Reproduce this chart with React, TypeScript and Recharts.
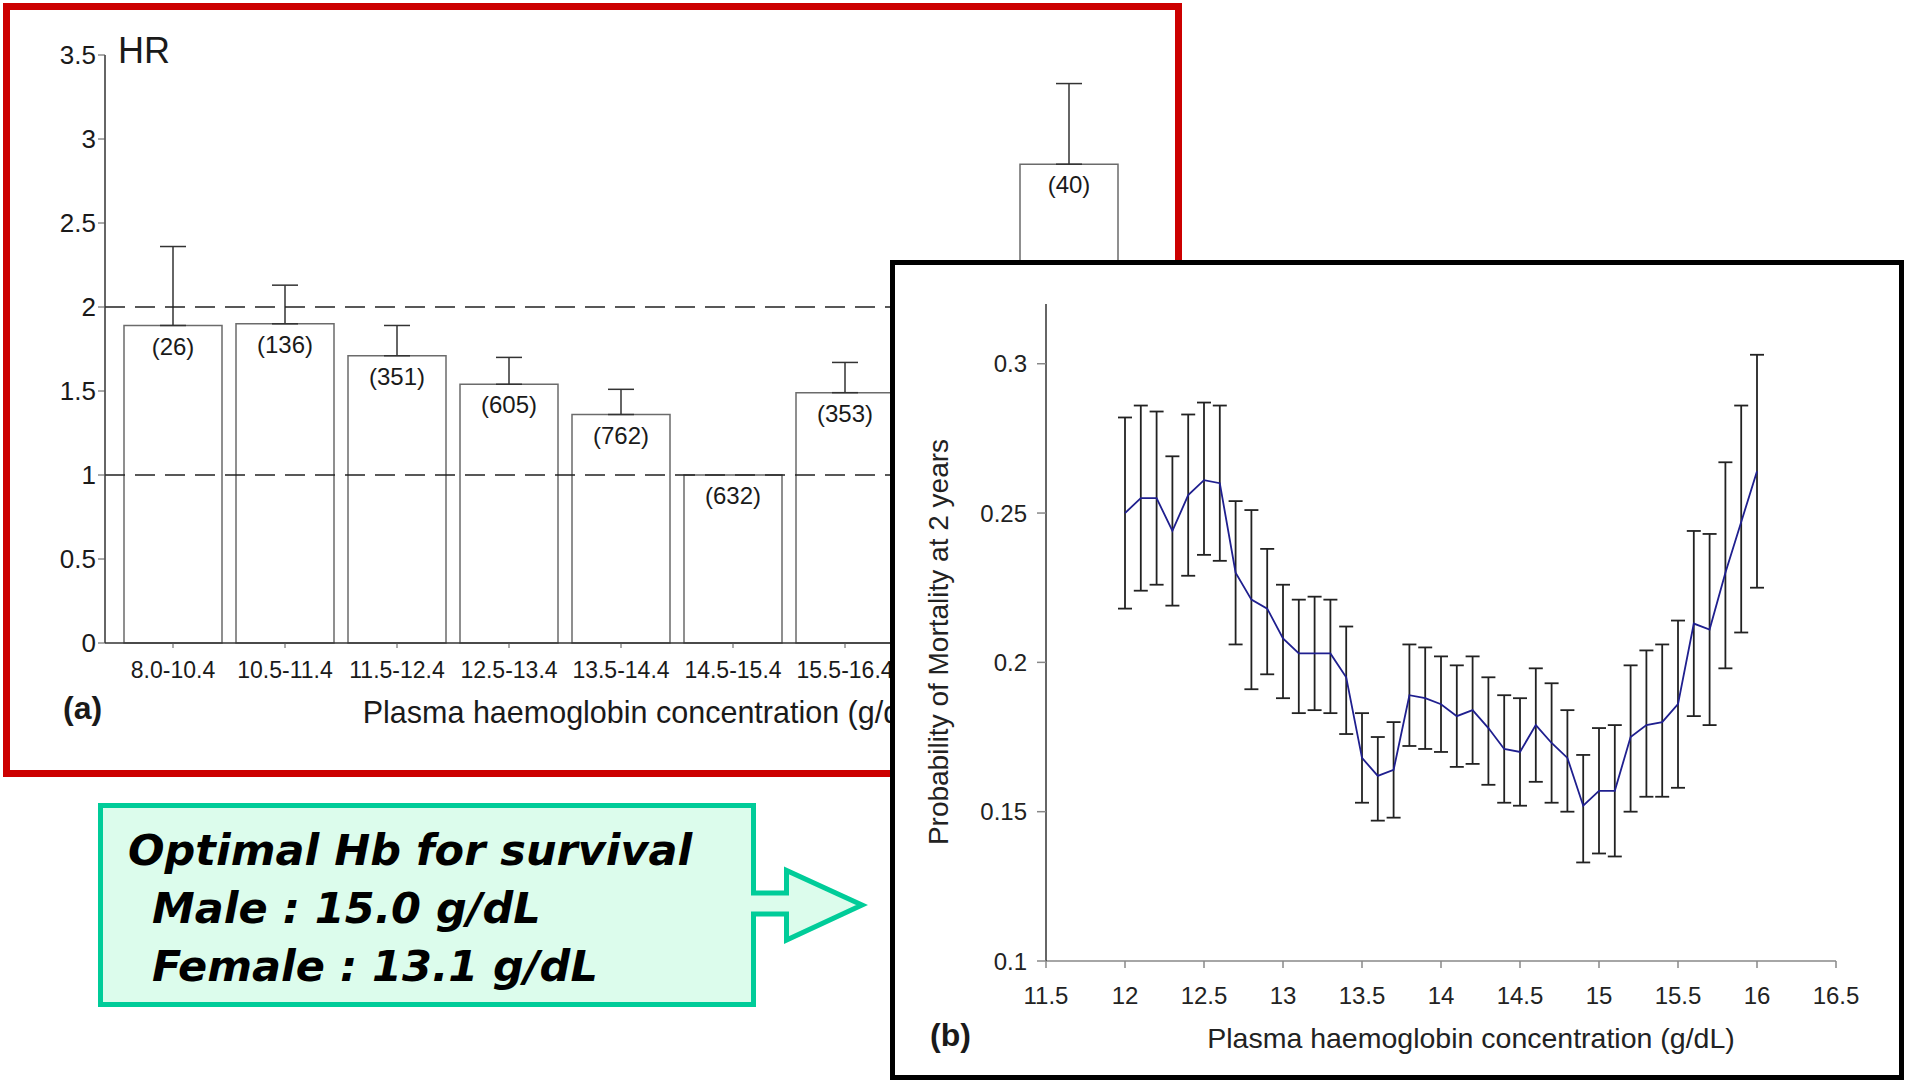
import {
  Bar,
  BarChart,
  ErrorBar,
  LabelList,
  Line,
  LineChart,
  ReferenceLine,
  XAxis,
  YAxis,
} from "recharts";

// panel (a): hazard ratio by haemoglobin band
const hbBands = [
  "8.0-10.4",
  "10.5-11.4",
  "11.5-12.4",
  "12.5-13.4",
  "13.5-14.4",
  "14.5-15.4",
  "15.5-16.4",
  "16.5-17.4",
  "≥17.5",
];
// 16.5-17.4 sits under panel (b) in the picture, so its value is unknown
const hazardRatio = [1.89, 1.9, 1.71, 1.54, 1.36, 1.0, 1.49, null, 2.85];
const hazardUpper = [2.36, 2.13, 1.89, 1.7, 1.51, null, 1.67, null, 3.33];
const bandCounts = [26, 136, 351, 605, 762, 632, 353, null, 40];
const hrTicks = [0, 0.5, 1, 1.5, 2, 2.5, 3, 3.5];

// panel (b): probability of mortality at 2 years
const hbLevels = [
  12.0, 12.1, 12.2, 12.3, 12.4, 12.5, 12.6, 12.7, 12.8, 12.9, 13.0, 13.1, 13.2,
  13.3, 13.4, 13.5, 13.6, 13.7, 13.8, 13.9, 14.0, 14.1, 14.2, 14.3, 14.4, 14.5,
  14.6, 14.7, 14.8, 14.9, 15.0, 15.1, 15.2, 15.3, 15.4, 15.5, 15.6, 15.7, 15.8,
  15.9, 16.0,
];
const mortality = [
  0.25, 0.255, 0.255, 0.244, 0.256, 0.261, 0.26, 0.23, 0.221, 0.218, 0.208,
  0.203, 0.203, 0.203, 0.195, 0.168, 0.162, 0.164, 0.189, 0.188, 0.186, 0.182,
  0.184, 0.178, 0.171, 0.17, 0.179, 0.173, 0.168, 0.152, 0.157, 0.157, 0.175,
  0.179, 0.18, 0.186, 0.213, 0.211, 0.23, 0.247, 0.264,
];
const mortalityLow = [
  0.218, 0.224, 0.226, 0.219, 0.229, 0.236, 0.234, 0.206, 0.191, 0.196, 0.188,
  0.183, 0.184, 0.183, 0.176, 0.153, 0.147, 0.148, 0.172, 0.171, 0.17, 0.165,
  0.166, 0.159, 0.153, 0.152, 0.16, 0.153, 0.15, 0.133, 0.136, 0.135, 0.15,
  0.155, 0.155, 0.158, 0.182, 0.179, 0.198, 0.21, 0.225,
];
const mortalityHigh = [
  0.282, 0.286, 0.284, 0.269, 0.283, 0.287, 0.286, 0.254, 0.251, 0.238, 0.226,
  0.221, 0.222, 0.221, 0.212, 0.183, 0.175, 0.18, 0.206, 0.205, 0.202, 0.199,
  0.202, 0.195, 0.189, 0.188, 0.198, 0.193, 0.184, 0.169, 0.178, 0.179, 0.199,
  0.204, 0.206, 0.214, 0.244, 0.243, 0.267, 0.286, 0.303,
];
const hbTicks = [11.5, 12, 12.5, 13, 13.5, 14, 14.5, 15, 15.5, 16, 16.5];
const probTicks = [0.1, 0.15, 0.2, 0.25, 0.3];

const TEXT = "#1a1a1a";

const barData = hbBands.map((band, i) => {
  const hr = hazardRatio[i];
  const up = hazardUpper[i];
  return {
    band,
    hr,
    err: hr != null && up != null ? [0, up - hr] : null,
    n: bandCounts[i] != null ? `(${bandCounts[i]})` : "",
  };
});

const lineData = hbLevels.map((hb, i) => ({
  hb,
  p: mortality[i],
  err: [mortality[i] - mortalityLow[i], mortalityHigh[i] - mortality[i]],
}));

function HazardChart() {
  return (
    <BarChart
      width={1200}
      height={770}
      data={barData}
      margin={{ top: 55, left: 45, right: 15, bottom: 47 }}
    >
      <XAxis
        dataKey="band"
        interval={0}
        padding={{ left: 12, right: 60 }}
        tickSize={5}
        tickMargin={14}
        tick={{ fontSize: 23, fill: TEXT }}
        tickFormatter={(v, i) => (hazardRatio[i] == null ? "" : v)}
        axisLine={{ stroke: "#333", strokeWidth: 1.5 }}
        tickLine={{ stroke: "#555" }}
        height={80}
        label={{
          value: "Plasma haemoglobin concentration (g/dL)",
          position: "insideBottom",
          offset: 0,
          fontSize: 30.5,
          fill: TEXT,
        }}
      />
      <YAxis
        width={60}
        domain={[0, 3.5]}
        ticks={hrTicks}
        tickSize={7}
        tickMargin={2}
        tick={{ fontSize: 26, fill: TEXT }}
        axisLine={{ stroke: "#333", strokeWidth: 1.5 }}
        tickLine={{ stroke: "#555" }}
      />
      <Bar
        dataKey="hr"
        barSize={98}
        fill="#fff"
        stroke="#6b6b6b"
        strokeWidth={1.5}
        isAnimationActive={false}
      >
        <ErrorBar
          dataKey="err"
          width={13}
          stroke="#333"
          strokeWidth={1.5}
        />
        <LabelList
          dataKey="n"
          position="insideTop"
          offset={12}
          fontSize={24}
          fill={TEXT}
        />
      </Bar>
      <ReferenceLine
        y={2}
        stroke="#222"
        strokeWidth={1.5}
        strokeDasharray="20 10"
      />
      <ReferenceLine
        y={1}
        stroke="#222"
        strokeWidth={1.5}
        strokeDasharray="20 10"
      />
    </BarChart>
  );
}

function MortalityChart() {
  return (
    <LineChart
      width={1014}
      height={820}
      data={lineData}
      margin={{ top: 44, left: 76, right: 68, bottom: 32 }}
    >
      <XAxis
        dataKey="hb"
        type="number"
        domain={[11.5, 16.5]}
        ticks={hbTicks}
        allowDataOverflow
        tickSize={7}
        tickMargin={19}
        tick={{ fontSize: 24, fill: "#222" }}
        axisLine={{ stroke: "#888", strokeWidth: 1.5 }}
        tickLine={{ stroke: "#888", strokeWidth: 1.5 }}
        height={87}
      />
      <YAxis
        width={80}
        domain={[0.1, 0.32]}
        ticks={probTicks}
        allowDataOverflow
        tickSize={9}
        tickMargin={10}
        tick={{ fontSize: 24, fill: "#222" }}
        axisLine={{ stroke: "#333", strokeWidth: 1.5 }}
        tickLine={{ stroke: "#888", strokeWidth: 1.5 }}
      />
      <Line
        dataKey="p"
        type="linear"
        stroke="#1f1f8f"
        strokeWidth={1.8}
        dot={false}
        isAnimationActive={false}
      >
        <ErrorBar dataKey="err" width={7} stroke="#222" strokeWidth={1.8} />
      </Line>
    </LineChart>
  );
}

function Overlay() {
  return (
    <svg
      width={1910}
      height={1080}
      style={{ position: "absolute", left: 0, top: 0, pointerEvents: "none" }}
    >
      <text x={118} y={63} fontSize={36} fill={TEXT}>
        HR
      </text>
      <text x={63} y={719} fontSize={32} fontWeight="bold" fill={TEXT}>
        (a)
      </text>
      <text x={930} y={1046} fontSize={32} fontWeight="bold" fill={TEXT}>
        (b)
      </text>
      <text
        x={948}
        y={642}
        fontSize={28}
        fill="#222"
        textAnchor="middle"
        transform="rotate(-90 948 642)"
      >
        Probability of Mortality at 2 years
      </text>
      <text x={1471} y={1048} fontSize={28.5} fill="#222" textAnchor="middle">
        Plasma haemoglobin concentration (g/dL)
      </text>

      <path
        d="M100.5 805.5 H753.5 V893 H786.5 V870.5 L862 905 L786.5 940 V914 H753.5 V1004.5 H100.5 Z"
        fill="#dcfcec"
        stroke="#00cc99"
        strokeWidth={5}
        strokeLinejoin="miter"
      />
      <g
        fontFamily='"DejaVu Sans", Verdana, sans-serif'
        fontWeight="bold"
        fontStyle="italic"
        fontSize={43}
        fill="#000"
      >
        <text x={128} y={865}>
          Optimal Hb for survival
        </text>
        <text x={152} y={923}>
          Male : 15.0 g/dL
        </text>
        <text x={152} y={981}>
          Female : 13.1 g/dL
        </text>
      </g>
    </svg>
  );
}

export default function App() {
  return (
    <div
      style={{
        position: "absolute",
        left: 0,
        top: 0,
        width: 1910,
        height: 1080,
        background: "#fff",
        overflow: "hidden",
        fontFamily: '"Liberation Sans", Arial, sans-serif',
      }}
    >
      <div
        style={{
          position: "absolute",
          left: 3,
          top: 3,
          width: 1179,
          height: 774,
          boxSizing: "border-box",
          border: "7px solid #cc0000",
        }}
      />
      <div style={{ position: "absolute", left: 0, top: 0 }}>
        <HazardChart />
      </div>
      <div
        style={{
          position: "absolute",
          left: 890,
          top: 260,
          width: 1014,
          height: 820,
          boxSizing: "border-box",
          border: "5px solid #000",
          background: "#fff",
        }}
      />
      <div style={{ position: "absolute", left: 890, top: 260 }}>
        <MortalityChart />
      </div>
      <Overlay />
    </div>
  );
}
